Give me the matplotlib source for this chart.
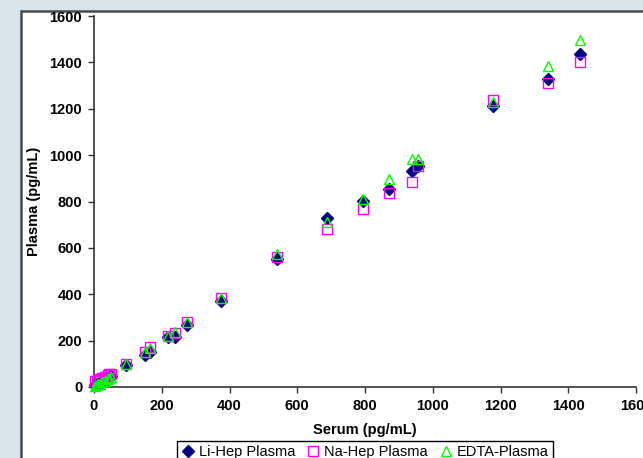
import matplotlib
matplotlib.use('Agg')
import matplotlib.pyplot as plt
from matplotlib.patches import Rectangle

plt.rcParams['font.family'] = ['Liberation Sans', 'DejaVu Sans']

# values
serum = [3, 8, 12, 18, 25, 32, 40, 45, 50, 94, 150, 165, 218, 239, 274,
         375, 540, 688, 794, 871, 938, 956, 1178, 1340, 1435]
li_hep = [10, 12, 15, 18, 22, 28, 35, 42, 48, 95, 138, 151, 215, 216, 268,
          370, 550, 729, 802, 855, 931, 955, 1212, 1328, 1436]
na_hep = [25, 28, 30, 35, 40, 45, 50, 55, 58, 99, 151, 172, 222, 235, 280,
          384, 560, 681, 768, 837, 884, 953, 1238, 1311, 1401]
edta = [5, 8, 12, 15, 20, 28, 35, 40, 45, 99, 151, 168, 220, 237, 280,
        384, 573, 711, 811, 897, 983, 983, 1229, 1384, 1496]

ticks = [0, 200, 400, 600, 800, 1000, 1200, 1400, 1600]

W, H = 643, 458
fig = plt.figure(figsize=(W / 100, H / 100), dpi=100)
fig.patch.set_facecolor('#d9e5e9')

# white panel with dark border on left/top
panel = Rectangle((20.5 / W, -0.1), 1.2, 1 - 10.5 / H + 0.1, transform=fig.transFigure,
                  facecolor='white', edgecolor='#4a4a4a', linewidth=1.8, zorder=-5)
fig.patches.append(panel)

ax = fig.add_axes([94 / W, 71 / H, (636 - 94) / W, (387 - 16) / H])
ax.set_facecolor('none')
ax.set_zorder(2)

ax.plot(serum, li_hep, linestyle='none', marker='D', markersize=5.8,
        color='#000080', label='Li-Hep Plasma', clip_on=False, zorder=3)
ax.plot(serum, na_hep, linestyle='none', marker='s', markersize=6.8,
        markerfacecolor='none', markeredgecolor='#ff00ff', markeredgewidth=1.0,
        label='Na-Hep Plasma', clip_on=False, zorder=4)
ax.plot(serum, edta, linestyle='none', marker='^', markersize=7.8,
        markerfacecolor='none', markeredgecolor='#00ff00', markeredgewidth=1.0,
        label='EDTA-Plasma', clip_on=False, zorder=5)

ax.set_xlim(0, 1600)
ax.set_ylim(0, 1600)
ax.set_xticks(ticks)
ax.set_yticks(ticks)
for s in ['top', 'right']:
    ax.spines[s].set_visible(False)
for s in ['left', 'bottom']:
    ax.spines[s].set_color('#333333')
    ax.spines[s].set_linewidth(1.2)
ax.tick_params(direction='out', length=4.5, width=1, color='#333333', pad=4,
               labelsize=10.5)
for lab in ax.get_xticklabels() + ax.get_yticklabels():
    lab.set_fontweight('bold')

ax.set_xlabel('Serum (pg/mL)', fontsize=10.5, fontweight='bold', labelpad=7)
ax.set_ylabel('Plasma (pg/mL)', fontsize=10.5, fontweight='bold', labelpad=6)

leg = fig.legend(loc='upper center', bbox_to_anchor=(365 / W, 1 - 441 / H), ncol=3,
                 frameon=True, fancybox=False, edgecolor='black', framealpha=1,
                 fontsize=10.5, handlelength=0.9, handletextpad=0.3,
                 columnspacing=0.8, borderpad=0.25, borderaxespad=0)
leg.get_frame().set_linewidth(1)
leg.set_zorder(3)

fig.savefig('out.png', dpi=100, facecolor=fig.get_facecolor())
